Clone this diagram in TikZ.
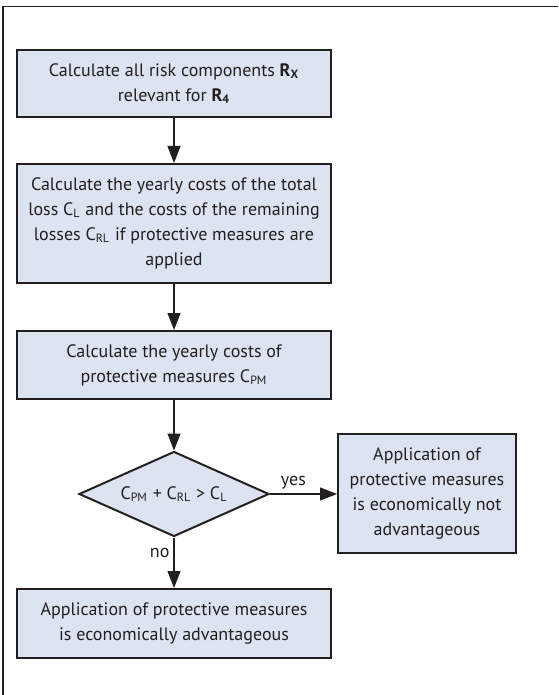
\documentclass[tikz,border=0pt]{standalone}
\usepackage{fontspec}
\setmainfont{PT Sans}
\usepackage{tikz}
\usetikzlibrary{shapes.geometric, arrows.meta, positioning, calc}
\definecolor{inkgray}{RGB}{35,31,32}
\definecolor{boxblue}{RGB}{219,228,240}

\begin{document}
\begin{tikzpicture}[x=0.5pt, y=-0.5pt,
    font=\fontsize{9}{12.5}\selectfont, text=inkgray,
    stepbox/.style={rectangle, draw=inkgray, line width=1pt, fill=boxblue,
                    minimum width=157pt, inner sep=2pt, align=center},
    decision/.style={diamond, draw=inkgray, line width=1pt, fill=boxblue,
                     minimum width=95pt, minimum height=42.5pt,
                     shape aspect=2.2, inner sep=0pt},
    flow/.style={draw=inkgray, line width=0.6pt,
                 -{Triangle[length=8.5pt, width=6.5pt]}},
    lbl/.style={inner sep=2pt}]

\useasboundingbox (0,0) rectangle (558,695);

%% ── Frame (top and left edge) ────────────────────────────────────────────────
\draw[inkgray, line width=0.8pt] (3,695) -- (3,6.5) -- (558,6.5);

%% ── Steps ────────────────────────────────────────────────────────────────────
\node[stepbox, minimum height=33.5pt] (risk) at (174,83.5)
    {Calculate all risk components \textbf{R\textsubscript{X}}\\
     relevant for \textbf{R\textsubscript{4}}};

\node[stepbox, minimum height=59.5pt] (costs) at (174,223.5)
    {Calculate the yearly costs of the total\\
     loss C\textsubscript{L} and the costs of the remaining\\
     losses C\textsubscript{RL} if protective measures are\\
     applied};

\node[stepbox, minimum height=34pt] (cpm) at (174,365)
    {Calculate the yearly costs of\\
     protective measures C\textsubscript{PM}};

%% Decision
\node[decision] (test) at (174,494)
    {C\textsubscript{PM} + C\textsubscript{RL} > C\textsubscript{L}};

%% Outcomes
\node[stepbox, minimum width=89pt, minimum height=59.5pt] (notadv) at (427,493.5)
    {Application of\\
     protective measures\\
     is economically not\\
     advantageous};

\node[stepbox, minimum height=34.5pt] (adv) at (174,623.5)
    {Application of protective measures\\
     is economically advantageous};

%% ── Connections ──────────────────────────────────────────────────────────────
\draw[flow] (risk.south) -- (costs.north);
\draw[flow] (costs.south) -- (cpm.north);
\draw[flow] (cpm.south) -- (test.north);

\draw[flow] (test.east)
    -- node[lbl, above, pos=0.35]{yes}
    (notadv.west |- test.east);

\draw[flow] (test.south)
    -- node[lbl, left, pos=0.3]{no}
    (adv.north);

\end{tikzpicture}
\end{document}
